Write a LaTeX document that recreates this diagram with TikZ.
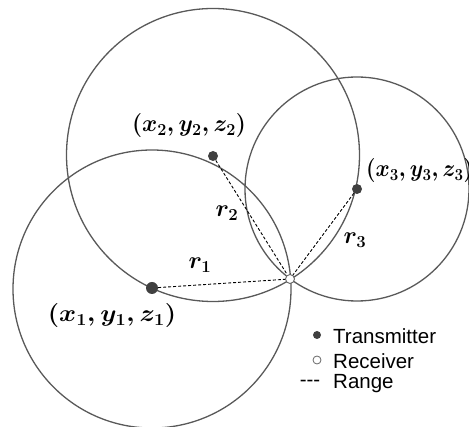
\RequirePackage{fix-cm}
\documentclass[tikz,border=0pt]{standalone}
\usepackage{fontspec}
\newfontfamily\arial{Liberation Sans}
\begin{document}
\begin{tikzpicture}[x=1pt,y=-1pt,
  rangecircle/.style={draw=black!65, line width=1.3pt},
  txdot/.style={circle, fill=black!75, inner sep=0pt},
  rxdot/.style={circle, draw=black!60, fill=white, line width=0.9pt, inner sep=0pt, minimum size=9pt},
  rangeline/.style={draw=black, line width=0.9pt, dash pattern=on 3pt off 2pt},
  coordlabel/.style={font=\fontsize{24}{28}\selectfont\boldmath, inner sep=0pt},
  rlabel/.style={font=\fontsize{24}{28}\selectfont\boldmath, inner sep=0pt},
  legendtext/.style={font=\arial\fontsize{20.5}{24}\selectfont, anchor=west, inner sep=0pt}]
\useasboundingbox (0,0) rectangle (469,427);
\clip (0,0) rectangle (469,427);
% circles
\draw[rangecircle] (152,289) circle[radius=139];
\draw[rangecircle] (213,155) circle[radius=146.5];
\draw[rangecircle] (357,189) circle[radius=112];
% receiver and transmitters
\node[rxdot] (R) at (290,279) {};
\node[txdot, minimum size=12pt] (T1) at (152,288) {};
\node[txdot, minimum size=10pt] (T2) at (213,156) {};
\node[txdot, minimum size=10pt] (T3) at (357,189) {};
\draw[rangeline] (T1) -- (R);
\draw[rangeline] (T2) -- (R);
\draw[rangeline] (T3) -- (R);
% labels
\node[coordlabel] (L1) at (112,316) {\scalebox{1.08}[1]{$(x_1,y_1,z_1)$}};
\node[coordlabel] (L2) at (189,126) {\scalebox{0.96}[1]{$(x_2,y_2,z_2)$}};
\node[coordlabel, anchor=west] (L3) at (366,171) {\scalebox{0.9}[1]{$(x_3,y_3,z_3)$}};
\node[rlabel] (r1) at (200,265) {$r_1$};
\node[rlabel] (r2) at (227,213) {$r_2$};
\node[rlabel] (r3) at (355,240) {$r_3$};
% legend
\node[txdot, minimum size=8pt] (lt) at (317,335) {};
\node[legendtext] (ltt) at (333,336) {Transmitter};
\node[rxdot, minimum size=8pt, line width=0.8pt] (lr) at (317,360) {};
\node[legendtext] (lrt) at (333,361) {Receiver};
\node[legendtext, anchor=center] (lg) at (310,383) {-{}-{}-};
\node[legendtext] (lgt) at (333,384) {Range};
\end{tikzpicture}
\end{document}
